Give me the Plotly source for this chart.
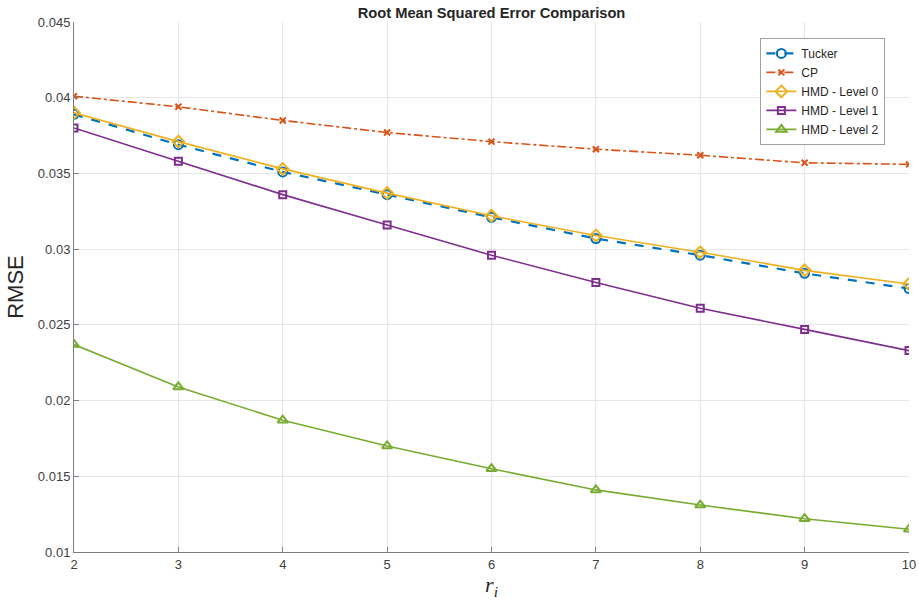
import plotly.graph_objects as go

r_values = [2, 3, 4, 5, 6, 7, 8, 9, 10]
tucker = [0.0389, 0.0369, 0.0351, 0.0336, 0.0321, 0.0307, 0.0296, 0.0284, 0.0274]
cp = [0.0401, 0.0394, 0.0385, 0.0377, 0.0371, 0.0366, 0.0362, 0.0357, 0.0356]
hmd0 = [0.0390, 0.0371, 0.0353, 0.0337, 0.0322, 0.0309, 0.0298, 0.0286, 0.0277]
hmd1 = [0.0380, 0.0358, 0.0336, 0.0316, 0.0296, 0.0278, 0.0261, 0.0247, 0.0233]
hmd2 = [0.0237, 0.0209, 0.0187, 0.0170, 0.0155, 0.0141, 0.0131, 0.0122, 0.0115]

ytick_vals = [0.01, 0.015, 0.02, 0.025, 0.03, 0.035, 0.04, 0.045]
ytick_text = ["0.01", "0.015", "0.02", "0.025", "0.03", "0.035", "0.04", "0.045"]

series = [
    ("Tucker", tucker, "#0072BD", "dash", 2.2, "circle-open", 9),
    ("CP", cp, "#D95319", "dashdot", 1.6, "x-thin-open", 6),
    ("HMD - Level 0", hmd0, "#EDB120", "solid", 1.6, "diamond-open", 9),
    ("HMD - Level 1", hmd1, "#7E2F8E", "solid", 1.6, "square-open", 7),
    ("HMD - Level 2", hmd2, "#77AC30", "solid", 1.6, "triangle-up-open", 9),
]

fig = go.Figure()
for name, vals, color, dash, lw, sym, ms in series:
    fig.add_trace(go.Scatter(
        x=r_values, y=vals, name=name, mode="lines+markers",
        line=dict(color=color, dash=dash, width=lw),
        marker=dict(symbol=sym, size=ms, color=color,
                    line=dict(color=color, width=2)),
    ))

axis_common = dict(
    showgrid=True, gridcolor="#e6e6e6", gridwidth=1,
    showline=True, linecolor="#808080", linewidth=1,
    ticks="inside", ticklen=5, tickcolor="#808080",
    tickfont=dict(family="Liberation Sans, Arial", size=13, color="#404040"),
    zeroline=False, mirror=False, automargin=False,
)

fig.update_layout(
    width=919, height=602,
    margin=dict(l=74, r=10, t=22, b=50, autoexpand=False),
    paper_bgcolor="white", plot_bgcolor="white",
    title=dict(text="<b>Root Mean Squared Error Comparison</b>",
               font=dict(family="Liberation Sans, Arial", size=14.7, color="#262626"),
               x=0.5, xanchor="center", y=0.978, yanchor="middle",
               xref="paper"),
    xaxis=dict(range=[2, 10], tickvals=r_values, **axis_common,
               title=dict(text="<i>r</i><sub><i>i</i></sub>",
                          font=dict(family="Liberation Serif, Times New Roman", size=22, color="#262626"),
                          standoff=6)),
    yaxis=dict(range=[0.01, 0.045], tickvals=ytick_vals, ticktext=ytick_text, **axis_common,
               title=dict(text="RMSE",
                          font=dict(family="Liberation Sans, Arial", size=22, color="#262626"),
                          standoff=8)),
    legend=dict(x=0.822, y=0.97, xanchor="left", yanchor="top",
                bgcolor="white", bordercolor="#a0a0a0", borderwidth=1,
                font=dict(family="Liberation Sans, Arial", size=12, color="#262626"),
                tracegroupgap=0, itemwidth=30),
    showlegend=True,
)

fig.write_html("out.html")
